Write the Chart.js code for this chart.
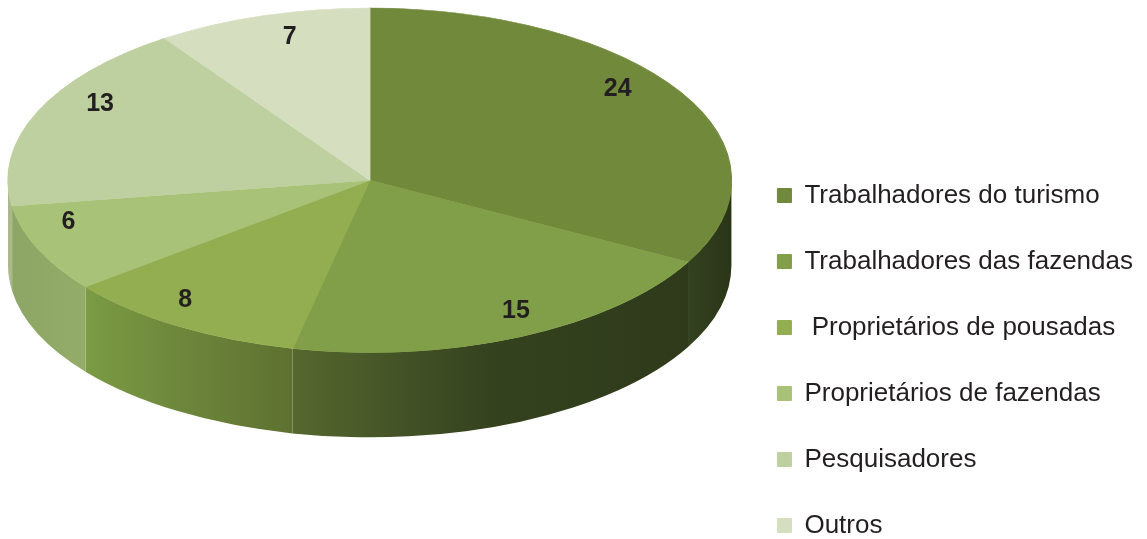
<!DOCTYPE html>
<html>
<head>
<meta charset="utf-8">
<script src="https://cdn.jsdelivr.net/npm/chart.js@4.4.1/dist/chart.umd.min.js"></script>
<style>
  html, body { margin: 0; padding: 0; background: #fff; }
  #wrap { width: 1147px; height: 539px; }
</style>
</head>
<body>
<div id="wrap"><canvas id="pizza"></canvas></div>
<script>
// Dados do gráfico
const categorias = ['Trabalhadores do turismo', 'Trabalhadores das fazendas', ' Proprietários de pousadas', 'Proprietários de fazendas', 'Pesquisadores', 'Outros'];
const entrevistados = [24, 15, 8, 6, 13, 7];

// Cores do topo e das laterais (da esquerda para a direita)
const coresTopo = ['#71893b', '#819f48', '#93ae50', '#a8c278', '#bfd0a0', '#d5dfc0'];
const coresLado = [
    ['#344220', '#2a3517'],
    ['#56672f', '#35421f', '#2e3a1a'],
    ['#7b9b44', '#6c853a', '#5e7131'],
    ['#8ea665', '#94ac68'],
    ['#a9b98a', '#a9b98a'],
    ['#c0caa8', '#c0caa8']
];

// Elipse do topo calculada a partir da área do gráfico
function geometria(chart) {
    const a = chart.chartArea;
    const rx = (a.right - a.left - 6) / 2;
    const ry = rx * 0.476;
    return { cx: a.left + rx, cy: a.top + ry, rx: rx, ry: ry, prof: rx * 0.235 };
}

const pizza3d = {
    id: 'pizza3d',
    beforeDatasetsDraw(chart) {
        const ctx = chart.ctx;
        const g = geometria(chart);
        const arcos = chart.getDatasetMeta(0).data;

        // laterais visíveis (metade da frente)
        arcos.forEach((arco, i) => {
            const ini = Math.max(arco.startAngle, 0);
            const fim = Math.min(arco.endAngle, Math.PI);
            if (ini >= fim) return;
            const x1 = g.cx + g.rx * Math.cos(fim);
            const x2 = g.cx + g.rx * Math.cos(ini);
            const grad = ctx.createLinearGradient(x1, 0, x2, 0);
            const cores = coresLado[i];
            cores.forEach((c, k) => grad.addColorStop(k / (cores.length - 1), c));
            ctx.beginPath();
            ctx.ellipse(g.cx, g.cy, g.rx, g.ry, 0, ini, fim, false);
            ctx.lineTo(x1, g.cy + g.ry * Math.sin(fim) + g.prof);
            ctx.ellipse(g.cx, g.cy + g.prof, g.rx, g.ry, 0, fim, ini, true);
            ctx.closePath();
            ctx.fillStyle = grad;
            ctx.fill();
        });

        // achata o círculo do Chart.js na elipse do topo
        const p = arcos[0];
        ctx.save();
        ctx.translate(g.cx, g.cy);
        ctx.scale(g.rx / p.outerRadius, g.ry / p.outerRadius);
        ctx.translate(-p.x, -p.y);
    },
    afterDatasetsDraw(chart) {
        const ctx = chart.ctx;
        ctx.restore();

        // rótulos com os valores (um pouco de perspectiva: frente maior)
        const g = geometria(chart);
        const arcos = chart.getDatasetMeta(0).data;
        ctx.save();
        ctx.font = 'bold 25px "Liberation Sans", Arial, sans-serif';
        ctx.fillStyle = '#231f20';
        ctx.textAlign = 'center';
        ctx.textBaseline = 'middle';
        arcos.forEach((arco, i) => {
            const meio = (arco.startAngle + arco.endAngle) / 2;
            const f = 0.86 + 0.12 * Math.sin(meio);
            const x = g.cx + g.rx * Math.cos(meio) * f;
            const y = g.cy + g.ry * Math.sin(meio) * f - g.ry * 0.12;
            ctx.fillText(String(entrevistados[i]), x, y);
        });
        ctx.restore();
    }
};

new Chart(document.getElementById('pizza'), {
    type: 'pie',
    data: {
        labels: categorias,
        datasets: [{
            data: entrevistados,
            backgroundColor: coresTopo,
            borderColor: coresTopo,
            borderWidth: 1,
            clip: false
        }]
    },
    options: {
        responsive: true,
        maintainAspectRatio: false,
        animation: false,
        layout: { padding: { left: 8, top: 8, right: 4, bottom: -39.5 } },
        plugins: {
            legend: {
                position: 'right',
                align: 'end',
                labels: {
                    boxWidth: 14,
                    boxHeight: 14,
                    padding: 40,
                    color: '#231f20',
                    font: { family: '"Liberation Sans", Arial, sans-serif', size: 26 }
                }
            },
            tooltip: { enabled: false }
        }
    },
    plugins: [pizza3d]
});
</script>
</body>
</html>
